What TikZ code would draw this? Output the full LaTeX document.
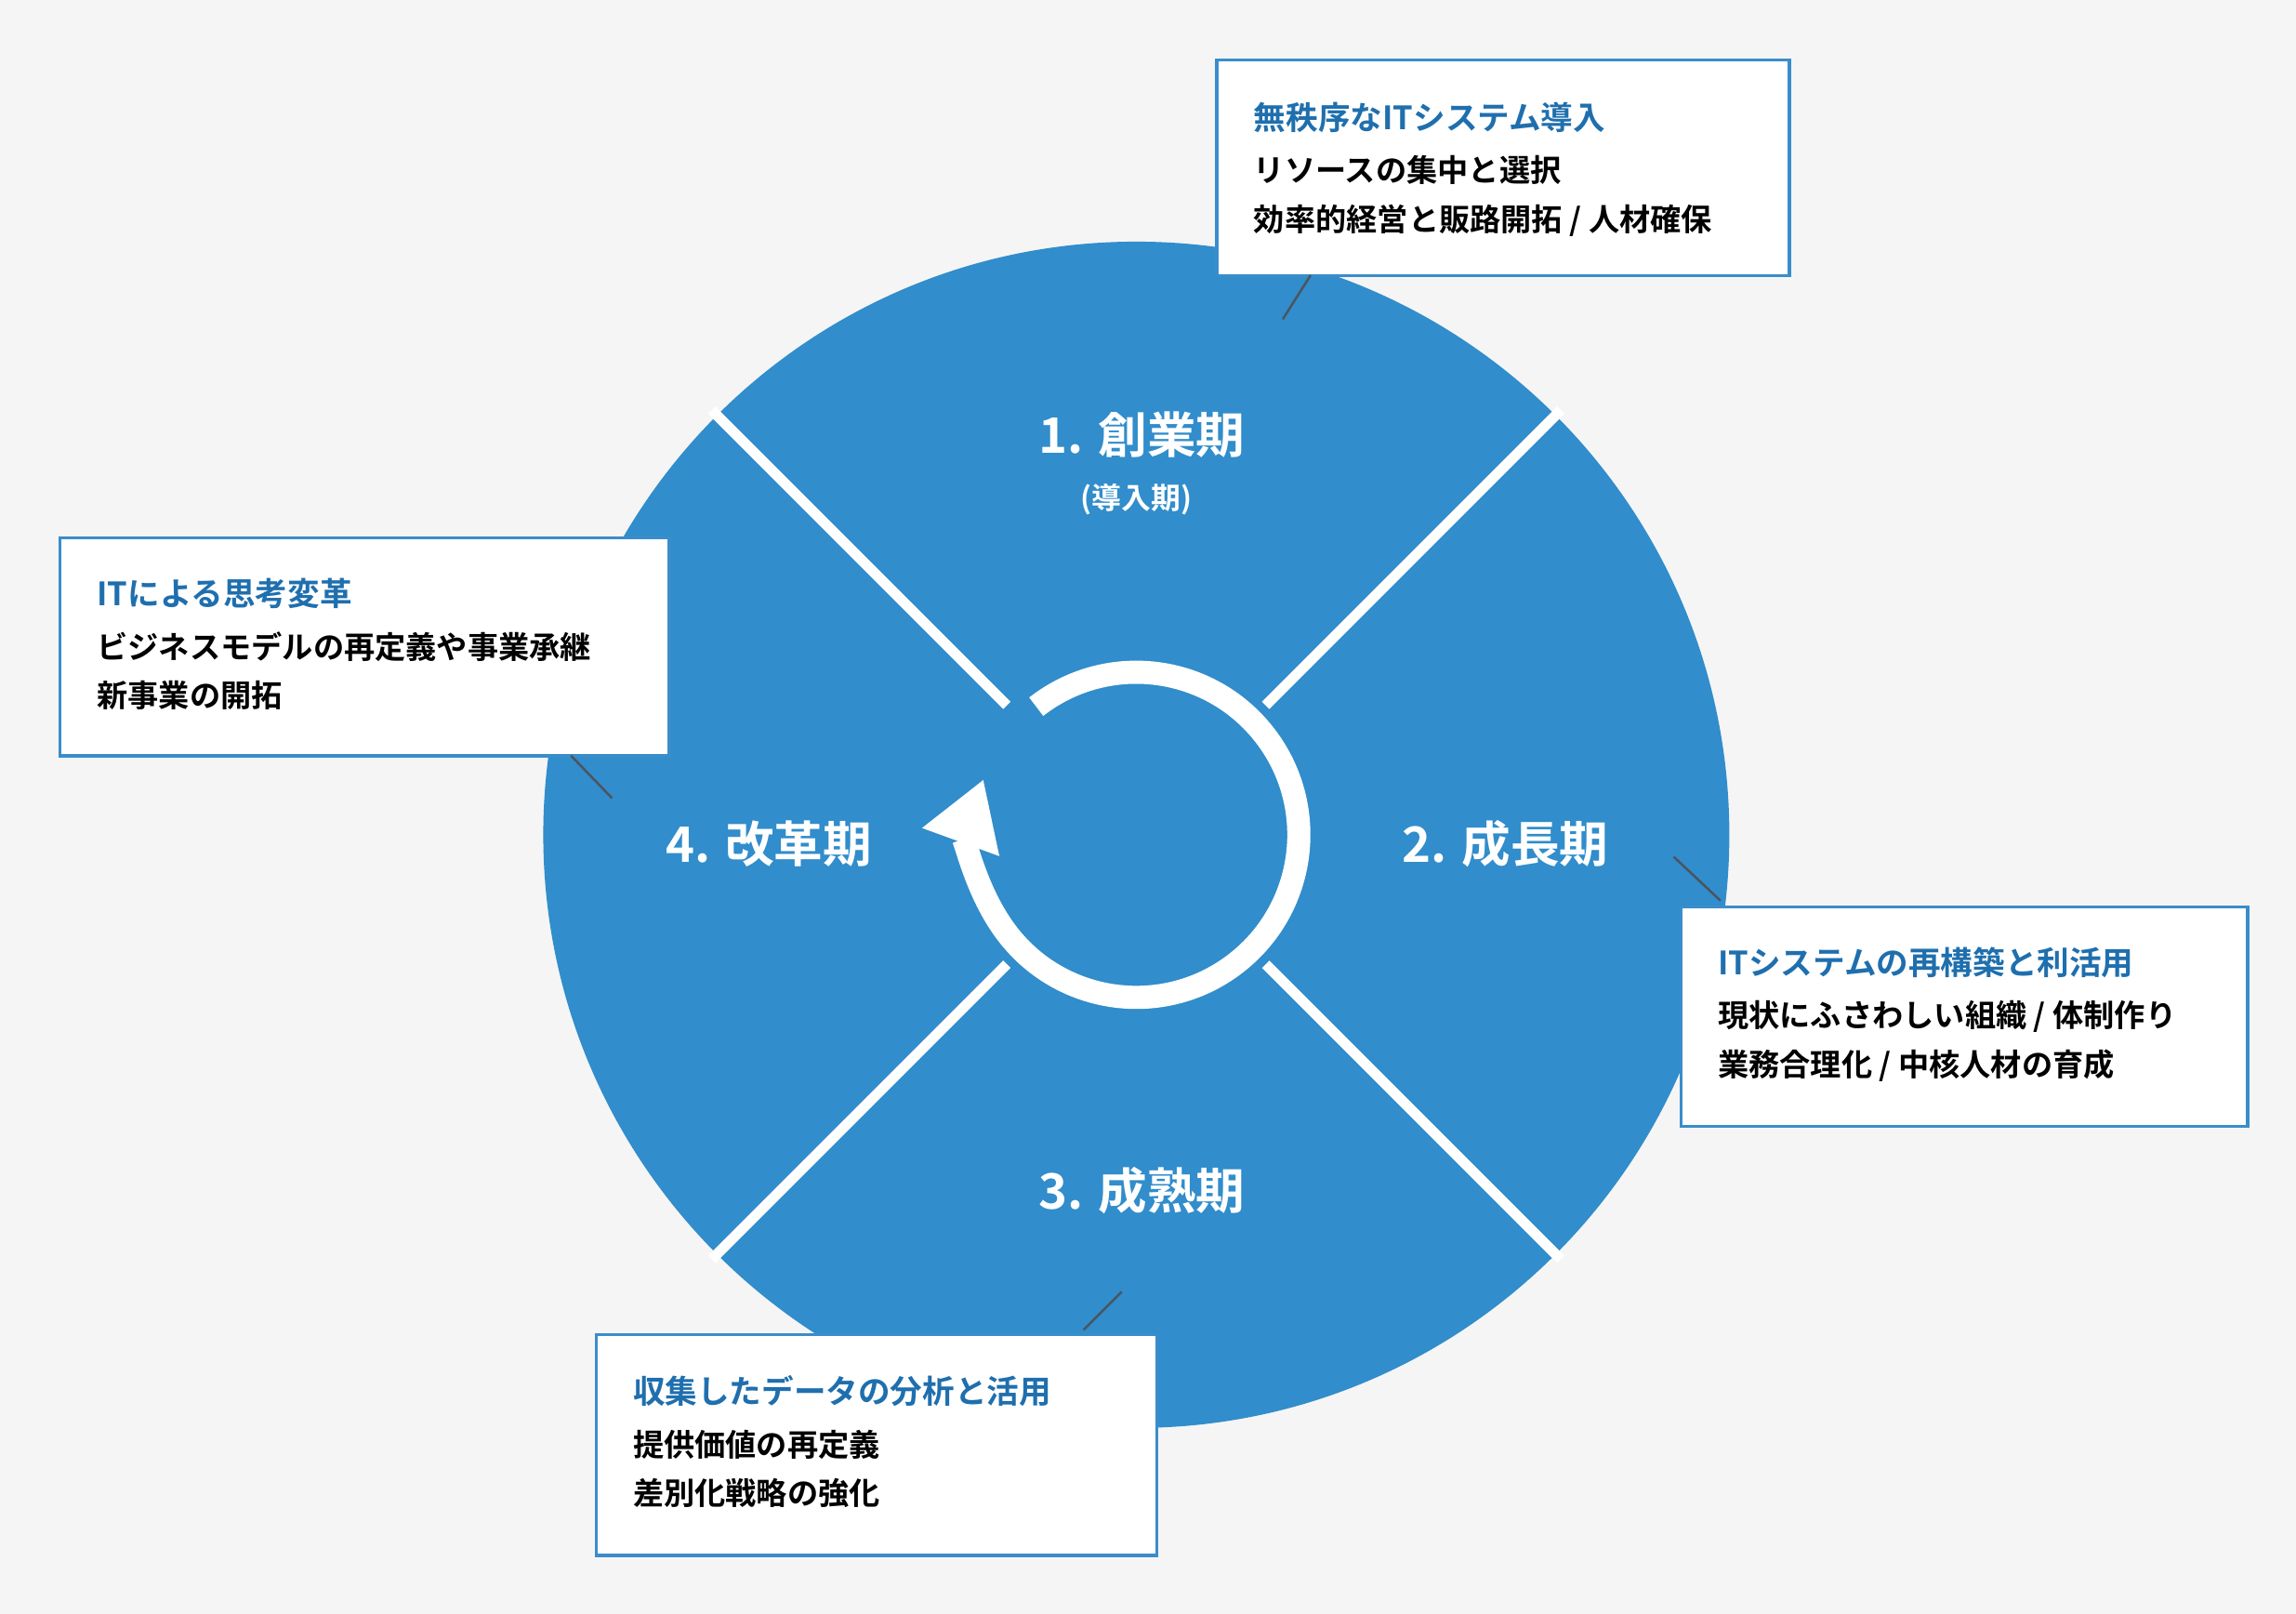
\documentclass[tikz,border=0pt]{standalone}
\usepackage{fontspec}
\setmainfont{Noto Sans CJK JP}[BoldFont={Noto Sans CJK JP Bold}]
\usetikzlibrary{arrows.meta,positioning}
\definecolor{bgc}{HTML}{F5F5F5}
\definecolor{wheel}{HTML}{318DCB}
\definecolor{ttl}{HTML}{1F6FAE}
\definecolor{edge}{HTML}{3A8DCB}
\definecolor{lead}{HTML}{4A5560}
\tikzset{
  phase/.style={text=white,font=\bfseries\fontsize{19}{22}\selectfont},
  infobox/.style={draw=edge,line width=1.2pt,fill=white,anchor=north west,inner sep=0pt},
  boxtitle/.style={anchor=west,text=ttl,font=\bfseries\fontsize{12.5}{15}\selectfont,inner sep=0pt},
  boxbody/.style={anchor=north west,align=left,font=\bfseries\fontsize{12}{19}\selectfont,inner sep=0pt},
  leader/.style={draw=lead,line width=0.9pt}
}
\begin{document}
\begin{tikzpicture}[x=0.02cm,y=-0.02cm]
  \fill[bgc] (0,0) rectangle (1568,1102);
  \coordinate (c) at (776,570);
  % wheel
  \fill[wheel] (c) circle[radius=405];
  \foreach \a in {45,135,225,315}
    \draw[white,line width=4pt] ([shift={(\a:125)}]c) -- ([shift={(\a:410)}]c);
  \fill[wheel] (c) circle[radius=124];
  \draw[white,line width=9pt,-{Triangle[length=26pt,width=30pt]}]
    ([shift={(-128:111)}]c) arc[start angle=-128,end angle=200,radius=111];
  % phases
  \node[phase] (p1) at (780,297) {1. 創業期};
  \node[text=white,font=\bfseries\fontsize{11.5}{14}\selectfont] (p1s) at (776,341) {(導入期)};
  \node[phase] (p2) at (1028,576) {2. 成長期};
  \node[phase] (p3) at (780,813) {3. 成熟期};
  \node[phase] (p4) at (525,576) {4. 改革期};
  % boxes
  \node[infobox,minimum width=7.82cm,minimum height=2.94cm] (b1) at (830,40) {};
  \node[boxtitle] (b1t) at (856,80) {無秩序なITシステム導入};
  \node[boxbody] (b1b) at (856,106) {リソースの集中と選択\\効率的経営と販路開拓 / 人材確保};
  \node[infobox,minimum width=8.32cm,minimum height=2.98cm] (b4) at (40,366) {};
  \node[boxtitle] (b4t) at (66,405) {ITによる思考変革};
  \node[boxbody] (b4b) at (66,431) {ビジネスモデルの再定義や事業承継\\新事業の開拓};
  \node[infobox,minimum width=7.74cm,minimum height=3.0cm] (b2) at (1147,618) {};
  \node[boxtitle] (b2t) at (1173,657) {ITシステムの再構築と利活用};
  \node[boxbody] (b2b) at (1173,683) {現状にふさわしい組織 / 体制作り\\業務合理化 / 中核人材の育成};
  \node[infobox,minimum width=7.66cm,minimum height=3.02cm] (b3) at (406,910) {};
  \node[boxtitle] (b3t) at (432,950) {収集したデータの分析と活用};
  \node[boxbody] (b3b) at (432,976) {提供価値の再定義\\差別化戦略の強化};
  % leaders
  \coordinate (l1) at (876,218);
  \coordinate (l4) at (418,545);
  \coordinate (l2) at (1143,585);
  \coordinate (l3) at (766,882);
  \draw[leader] (l1) -- (895,188);
  \draw[leader] (l4) -- (390,516);
  \draw[leader] (l2) -- (1175,615);
  \draw[leader] (l3) -- (740,908);
\end{tikzpicture}
\end{document}
